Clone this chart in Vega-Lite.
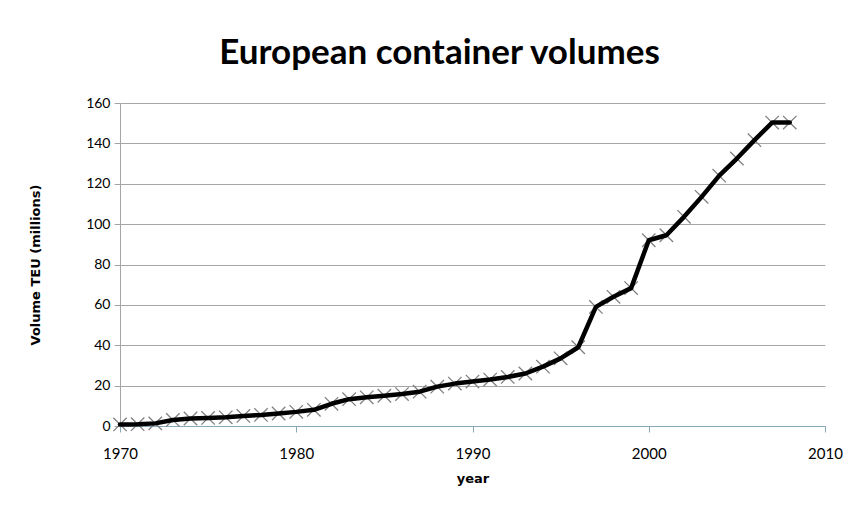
{
  "$schema": "https://vega.github.io/schema/vega-lite/v6.json",
  "width": 705,
  "height": 323,
  "autosize": {"type": "none"},
  "padding": {"left": 120, "top": 103, "right": 36, "bottom": 92},
  "background": "white",
  "title": {
    "text": "European container volumes",
    "font": "Lato",
    "fontSize": 35,
    "fontWeight": "bold",
    "color": "#000000",
    "anchor": "middle",
    "frame": "group",
    "dx": -33,
    "offset": 25
  },
  "config": {
    "view": {"stroke": null},
    "axis": {"labelFont": "Lato", "titleFont": "DejaVu Sans", "labelColor": "#000000", "titleColor": "#000000"}
  },
  "data": {
    "values": [
      {"year": 1970, "teu": 0.8},
      {"year": 1971, "teu": 0.9},
      {"year": 1972, "teu": 1.3},
      {"year": 1973, "teu": 3.0},
      {"year": 1974, "teu": 3.7},
      {"year": 1975, "teu": 4.0},
      {"year": 1976, "teu": 4.3},
      {"year": 1977, "teu": 5.0},
      {"year": 1978, "teu": 5.5},
      {"year": 1979, "teu": 6.2},
      {"year": 1980, "teu": 7.0},
      {"year": 1981, "teu": 8.0},
      {"year": 1982, "teu": 11.0},
      {"year": 1983, "teu": 13.3},
      {"year": 1984, "teu": 14.2},
      {"year": 1985, "teu": 15.0},
      {"year": 1986, "teu": 15.8},
      {"year": 1987, "teu": 17.0},
      {"year": 1988, "teu": 19.5},
      {"year": 1989, "teu": 21.0},
      {"year": 1990, "teu": 22.0},
      {"year": 1991, "teu": 23.0},
      {"year": 1992, "teu": 24.3},
      {"year": 1993, "teu": 26.0},
      {"year": 1994, "teu": 29.4},
      {"year": 1995, "teu": 33.5},
      {"year": 1996, "teu": 39.0},
      {"year": 1997, "teu": 59.0},
      {"year": 1998, "teu": 64.0},
      {"year": 1999, "teu": 68.3},
      {"year": 2000, "teu": 92.0},
      {"year": 2001, "teu": 94.5},
      {"year": 2002, "teu": 103.6},
      {"year": 2003, "teu": 113.5},
      {"year": 2004, "teu": 124.0},
      {"year": 2005, "teu": 132.5},
      {"year": 2006, "teu": 141.6},
      {"year": 2007, "teu": 150.3},
      {"year": 2008, "teu": 150.3}
    ]
  },
  "encoding": {
    "x": {
      "field": "year",
      "type": "quantitative",
      "scale": {"domain": [1970, 2010], "nice": false, "zero": false},
      "axis": {
        "title": "year",
        "titleFontSize": 13,
        "titleFontWeight": "bold",
        "titlePadding": 11,
        "values": [1970, 1980, 1990, 2000, 2010],
        "format": "d",
        "grid": false,
        "domainColor": "#86aab8",
        "tickColor": "#86aab8",
        "tickSize": 6,
        "labelFontSize": 15,
        "labelPadding": 14,
        "labelFlush": false
      }
    },
    "y": {
      "field": "teu",
      "type": "quantitative",
      "scale": {"domain": [0, 160], "nice": false},
      "axis": {
        "title": "Volume TEU  (millions)",
        "titleFontSize": 13,
        "titleFontWeight": "bold",
        "titlePadding": 43,
        "values": [0, 20, 40, 60, 80, 100, 120, 140, 160],
        "grid": true,
        "gridColor": "#a6a6a6",
        "gridWidth": 1,
        "domainColor": "#a6a6a6",
        "tickColor": "#a6a6a6",
        "tickSize": 6,
        "labelFontSize": 14,
        "labelPadding": 4
      }
    }
  },
  "layer": [
    {
      "mark": {
        "type": "point",
        "shape": "M-1,-1L1,1M-1,1L1,-1",
        "filled": false,
        "stroke": "#808080",
        "strokeWidth": 1.3,
        "size": 180,
        "opacity": 1
      }
    },
    {
      "mark": {"type": "line", "color": "#000000", "strokeWidth": 4.5, "strokeJoin": "round", "strokeCap": "round"}
    }
  ]
}
